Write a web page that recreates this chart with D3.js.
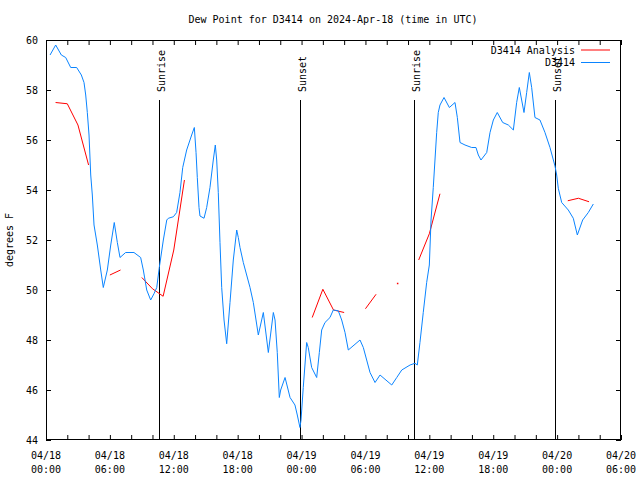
<!DOCTYPE html>
<html>
<head>
<meta charset="utf-8">
<script src="https://cdn.jsdelivr.net/npm/d3@7"></script>
<style>
body{margin:0;background:#fff;}
svg{display:block;}
text{font-family:"DejaVu Sans Mono",monospace;font-size:10px;fill:#000;}
</style>
</head>
<body>
<svg id="chart" width="640" height="480"></svg>
<script>
// ---- data (hours since 2024-04-18 00:00 UTC) ----
const titleText = "Dew Point for D3414 on 2024-Apr-18 (time in UTC)";
const yLabel = "degrees F";
const seriesNames = ["D3414 Analysis", "D3414"];

const obsHours = [0.38,0.91,1.44,1.85,2.32,2.88,3.32,3.57,3.73,3.88,4.04,4.20,4.35,4.51,4.82,5.14,5.38,5.76,6.08,6.41,6.70,6.95,7.48,8.26,8.89,9.14,9.46,9.83,10.14,10.40,10.64,11.02,11.34,11.49,11.96,12.27,12.58,12.84,13.21,13.68,13.93,14.09,14.21,14.37,14.46,14.84,15.09,15.40,15.71,15.90,16.03,16.18,16.34,16.50,16.72,16.97,17.28,17.59,17.91,18.06,18.22,18.53,19.16,19.47,19.94,20.41,20.88,21.35,21.51,21.72,21.91,22.04,22.45,22.92,23.38,23.60,23.85,23.95,24.16,24.48,24.63,24.95,25.42,25.67,25.89,26.20,26.67,26.98,27.45,27.77,28.08,28.39,29.49,29.80,30.43,30.90,31.37,32.47,32.94,33.41,34.19,34.65,34.87,35.12,35.43,35.75,36.00,36.16,36.37,36.53,36.69,36.84,37.00,37.38,37.88,38.41,38.63,38.88,39.35,39.98,40.38,40.60,40.85,41.39,41.70,42.01,42.38,42.89,43.42,43.89,44.20,44.45,44.67,44.89,45.14,45.39,45.61,45.92,46.39,46.86,47.33,47.80,47.96,48.11,48.43,49.05,49.52,49.90,50.40,50.93,51.40];
const obsValues = [59.4,59.8,59.4,59.3,58.9,58.9,58.6,58.3,57.8,57.1,56.2,54.6,53.8,52.6,51.8,50.8,50.1,50.8,51.8,52.7,51.9,51.3,51.5,51.5,51.3,50.8,50.0,49.6,49.85,50.1,50.9,52.0,52.8,52.87,52.93,53.1,53.9,54.9,55.6,56.2,56.5,55.5,54.5,53.3,52.96,52.87,53.3,54.1,55.2,55.8,55.2,53.9,51.9,50.1,48.8,47.85,49.5,51.2,52.4,52.1,51.7,51.1,50.1,49.5,48.2,49.1,47.5,49.1,48.8,47.5,45.7,46.0,46.5,45.7,45.4,45.0,44.5,44.8,46.1,47.9,47.7,46.9,46.5,47.5,48.4,48.7,48.9,49.2,49.17,48.8,48.3,47.6,48.0,47.7,46.7,46.3,46.6,46.2,46.5,46.8,47.0,47.07,47.0,47.9,49.1,50.3,51.0,52.8,54.1,55.2,56.3,57.1,57.4,57.7,57.3,57.5,56.9,55.9,55.8,55.7,55.7,55.4,55.2,55.5,56.3,56.8,57.1,56.7,56.6,56.4,57.5,58.1,57.6,57.1,57.9,58.7,58.1,56.9,56.8,56.3,55.7,54.96,54.6,54.07,53.5,53.2,52.87,52.2,52.8,53.1,53.44];

const anaHours = [0.9,2,3,4,5,6,7,8,9,10,11,12,13,14,24,25,26,27,28,29,30,31,32,33,34,35,36,37,38,48,49,50,51];
const anaValues = [57.5,57.45,56.6,55.0,null,50.6,50.8,null,50.5,50.05,49.75,51.6,54.4,null,null,48.9,50.03,49.2,49.1,null,49.25,49.83,null,50.27,null,51.2,52.25,53.85,null,null,53.57,53.67,53.53];

const eventLabels = ["Sunrise","Sunset","Sunrise","Sunset"];
const eventHours = [10.64,23.88,34.59,47.83];

const yTicks = [44,46,48,50,52,54,56,58,60];
const xTickHours = d3.range(0,55,2);
const xLabelHours = [0,6,12,18,24,30,36,42,48,54];

// ---- layout ----
const svg = d3.select("#chart");
const L = 46, R = 621, T = 40, B = 440;
const t0 = Date.UTC(2024,3,18,0,0);
const hToDate = h => new Date(t0 + h*3600e3);
const x = d3.scaleUtc().domain([hToDate(0), hToDate(54)]).range([L, R]);
const y = d3.scaleLinear().domain([44,60]).range([B, T]);

// title
svg.append("text").attr("x",333).attr("y",23).attr("text-anchor","middle").text(titleText);
// y label
svg.append("text").attr("transform","translate(13,240) rotate(-90)").attr("text-anchor","middle").text(yLabel);

// axes
const tl = 5;
const fmtD = d3.utcFormat("%m/%d"), fmtT = d3.utcFormat("%H:%M");
const xb = svg.append("g").attr("transform",`translate(0,${B})`)
  .call(d3.axisBottom(x).tickValues(xTickHours.map(hToDate)).tickSize(-tl).tickFormat(""));
const xt = svg.append("g").attr("transform",`translate(0,${T})`)
  .call(d3.axisTop(x).tickValues(xTickHours.map(hToDate)).tickSize(-tl).tickFormat(""));
const yl = svg.append("g").attr("transform",`translate(${L},0)`)
  .call(d3.axisLeft(y).tickValues(yTicks).tickSize(-tl).tickPadding(8).tickFormat(d3.format("d")));
const yr = svg.append("g").attr("transform",`translate(${R},0)`)
  .call(d3.axisRight(y).tickValues(yTicks).tickSize(-tl).tickFormat(""));
[xb,xt,yl,yr].forEach(g=>{
  g.select(".domain").remove();
  g.selectAll("line").attr("stroke","#000");
});
yl.selectAll("text").attr("font-family","DejaVu Sans Mono, monospace").attr("font-size","10px").attr("fill","#000");

// x labels, two lines
const xl = svg.append("g");
xLabelHours.forEach(h=>{
  const d = hToDate(h);
  const tx = xl.append("text").attr("x", x(d)).attr("text-anchor","middle");
  tx.append("tspan").attr("x",x(d)).attr("y",459).text(fmtD(d));
  tx.append("tspan").attr("x",x(d)).attr("y",473).text(fmtT(d));
});

// frame
svg.append("rect").attr("x",L+0.5).attr("y",T+0.5).attr("width",R-L-1).attr("height",B-T-1)
  .attr("fill","none").attr("stroke","#000");

// events
eventHours.forEach((h,i)=>{
  const ex = Math.round(x(hToDate(h)))+0.5;
  svg.append("line").attr("x1",ex).attr("x2",ex).attr("y1",100).attr("y2",B).attr("stroke","#000");
  svg.append("text").attr("transform",`translate(${ex+5},92) rotate(-90)`).attr("text-anchor","start").text(eventLabels[i]);
});

// series
const obs = obsHours.map((h,i)=>({d:hToDate(h), v:obsValues[i]}));
const ana = anaHours.map((h,i)=>({d:hToDate(h), v:anaValues[i]}));
const line = d3.line().defined(p=>p.v!==null).x(p=>x(p.d)).y(p=>y(p.v));
svg.append("clipPath").attr("id","clp").append("rect").attr("x",L).attr("y",T).attr("width",R-L).attr("height",B-T);
svg.append("path").datum(ana).attr("d",line).attr("fill","none").attr("stroke","#ff0000").attr("stroke-width",1).attr("clip-path","url(#clp)");
// isolated analysis points
ana.forEach((p,i)=>{
  if(p.v===null) return;
  const prev = ana[i-1], next = ana[i+1];
  if((!prev||prev.v===null)&&(!next||next.v===null)){
    svg.append("rect").attr("x",x(p.d)-0.5).attr("y",y(p.v)-0.5).attr("width",1.5).attr("height",1.5).attr("fill","#ff0000");
  }
});
svg.append("path").datum(obs).attr("d",line).attr("fill","none").attr("stroke","#0a84ff").attr("stroke-width",1).attr("clip-path","url(#clp)");

// legend
const legColors = ["#ff0000","#0a84ff"];
seriesNames.forEach((n,i)=>{
  const ly = 50 + i*12.5;
  svg.append("text").attr("x",575).attr("y",ly+3.5).attr("text-anchor","end").text(n);
  svg.append("line").attr("x1",581).attr("x2",610).attr("y1",ly).attr("y2",ly).attr("stroke",legColors[i]);
});
</script>
</body>
</html>
